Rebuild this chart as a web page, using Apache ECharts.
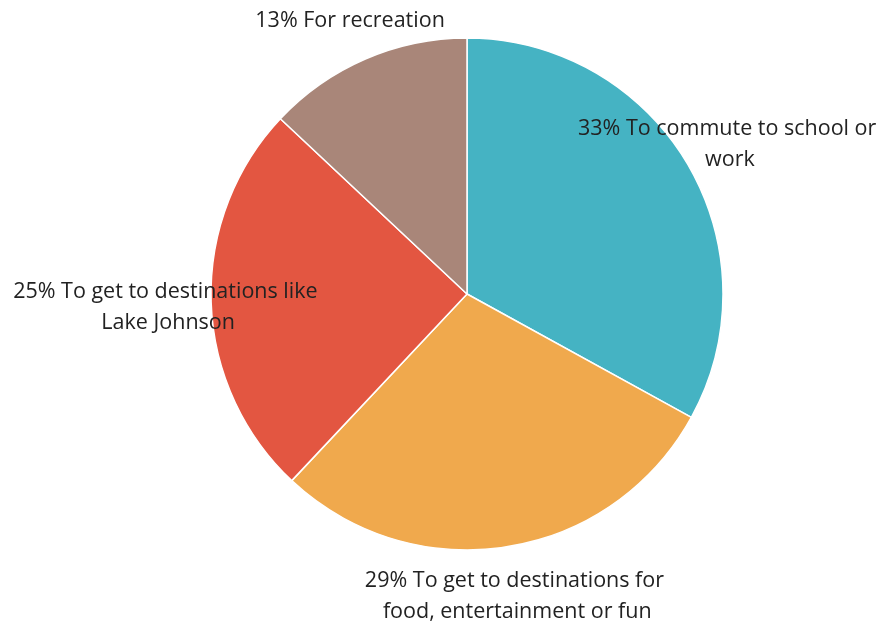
<!DOCTYPE html>
<html>
<head>
<meta charset="utf-8">
<script src="https://cdn.jsdelivr.net/npm/echarts@6/dist/echarts.min.js"></script>
<style>
html,body{margin:0;padding:0;background:#fff;}
#chart{width:884px;height:623px;}
</style>
</head>
<body>
<div id="chart"></div>
<script>
const categories = [
  'To commute to school or work',
  'To get to destinations for food, entertainment or fun',
  'To get to destinations like Lake Johnson',
  'For recreation'
];
const values = [33, 29, 25, 13];
const colors = ['#45B3C3', '#F0A94D', '#E35641', '#A98679'];

const data = categories.map((c, i) => ({ name: c, value: values[i], itemStyle: { color: colors[i] } }));
const labelData = categories.map((c, i) => ({ name: c, value: values[i] }));

const chart = echarts.init(document.getElementById('chart'));
chart.setOption({
  animation: false,
  series: [
    {
      type: 'pie',
      center: [467, 294],
      radius: 256,
      startAngle: 90,
      clockwise: true,
      data: data,
      itemStyle: { borderColor: '#fff', borderWidth: 1.5 },
      label: { show: false },
      labelLine: { show: false },
      silent: true
    },
    {
      type: 'pie',
      center: [470, 298],
      radius: [295, 303],
      startAngle: 90,
      clockwise: true,
      data: labelData,
      itemStyle: { color: 'rgba(0,0,0,0)', borderWidth: 0 },
      label: {
        show: true,
        position: 'inside',
        formatter: p => p.value + '% ' + p.name,
        fontFamily: 'Open Sans',
        fontSize: 21.5,
        color: '#222',
        lineHeight: 31,
        width: 330,
        overflow: 'break',
        align: 'center'
      },
      labelLine: { show: false },
      silent: true,
      z: 5
    }
  ]
});
</script>
</body>
</html>
